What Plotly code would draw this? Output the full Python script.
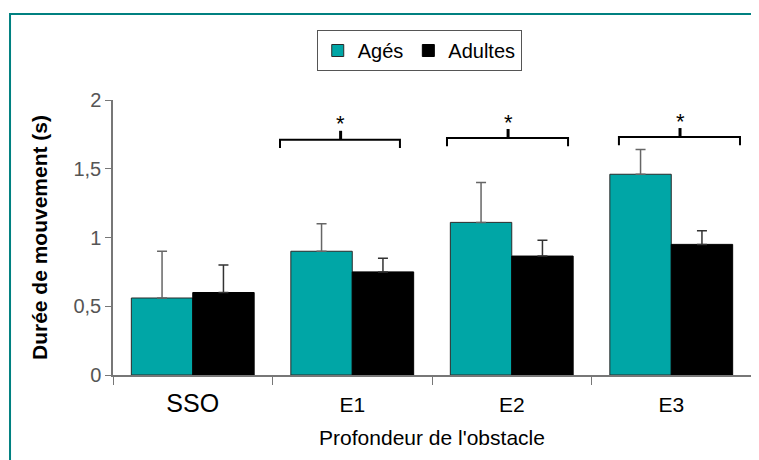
import plotly.graph_objects as go

categories = ["SSO", "E1", "E2", "E3"]
ages_values = [0.56, 0.90, 1.11, 1.46]
ages_err = [0.34, 0.20, 0.29, 0.18]
adultes_values = [0.60, 0.75, 0.865, 0.95]
adultes_err = [0.20, 0.10, 0.115, 0.10]
y_ticks = [0, 0.5, 1, 1.5, 2]
y_ticklabels = ["0", "0,5", "1", "1,5", "2"]
signif_categories = ["E1", "E2", "E3"]

TEAL = "#00A6A6"
FONT = "Liberation Sans, Arial, sans-serif"

fig = go.Figure()
fig.add_trace(go.Bar(
    name="Agés", x=categories, y=ages_values,
    marker=dict(color=TEAL, line=dict(color="#2a2a2a", width=1)),
    error_y=dict(type="data", array=ages_err, arrayminus=[0]*len(ages_err), symmetric=False,
                 color="#666666", thickness=1.5, width=5),
))
fig.add_trace(go.Bar(
    name="Adultes", x=categories, y=adultes_values,
    marker=dict(color="#000000", line=dict(color="#000000", width=1)),
    error_y=dict(type="data", array=adultes_err, arrayminus=[0]*len(adultes_err), symmetric=False,
                 color="#333333", thickness=1.5, width=5),
))

# significance brackets (offsets relative to category index)
bracket_offsets = [(-0.453, 0.299, -0.073, 1.711),
                   (-0.406, 0.353, -0.023, 1.724),
                   (-0.328, 0.431, 0.055, 1.731)]
shapes = []
annotations = []
for cat, (lo, hi, mid, yh) in zip(signif_categories, bracket_offsets):
    i = categories.index(cat)
    x0, x1, xm = i + lo, i + hi, i + mid
    path = f"M {x0},{yh-0.06} L {x0},{yh} L {x1},{yh} L {x1},{yh-0.06}"
    shapes.append(dict(type="path", path=path, xref="x", yref="y",
                       line=dict(color="#000000", width=2)))
    shapes.append(dict(type="line", x0=xm, x1=xm, y0=yh, y1=yh + 0.065, xref="x", yref="y",
                       line=dict(color="#000000", width=3)))
    annotations.append(dict(x=xm, y=yh + 0.115, xref="x", yref="y", text="*", showarrow=False,
                            font=dict(size=22, color="#000000", family=FONT), yanchor="middle"))

# outer teal frame
shapes.append(dict(type="rect", xref="paper", yref="paper", x0=-0.1614, y0=-0.6, x1=1.3, y1=1.3127,
                   line=dict(color="#008080", width=2), fillcolor="rgba(0,0,0,0)", layer="below"))

ticktext = [f"<span style='font-size:25px'>{c}</span>" if c == "SSO" else c for c in categories]

fig.update_layout(
    width=759, height=460,
    margin=dict(l=105, r=16, t=92, b=93),
    paper_bgcolor="white", plot_bgcolor="white",
    barmode="group", bargap=0.23, bargroupgap=0,
    font=dict(family=FONT, color="#000000"),
    showlegend=True,
    legend=dict(orientation="h", x=0.48, y=1.2545, xanchor="center", yanchor="top",
                bordercolor="#555555", borderwidth=1, bgcolor="white",
                font=dict(size=20, family=FONT, color="#000000"),
                itemwidth=30, traceorder="normal"),
    shapes=shapes,
    annotations=annotations,
    xaxis=dict(
        type="category", range=[-0.5, 3.5],
        tickvals=categories, ticktext=ticktext,
        tickson="boundaries", ticks="outside", ticklen=8, tickcolor="#777777",
        ticklabelstandoff=10,
        showline=True, linecolor="#777777", linewidth=1.5,
        tickfont=dict(size=21, family=FONT, color="#000000"),
        title=dict(text="Profondeur de l'obstacle", font=dict(size=21, family=FONT, color="#000000"),
                   standoff=14),
        showgrid=False, zeroline=False,
    ),
    yaxis=dict(
        range=[0, 2], tickvals=y_ticks, ticktext=y_ticklabels,
        ticks="outside", ticklen=6, tickcolor="#777777",
        showline=True, linecolor="#777777", linewidth=1.5,
        tickfont=dict(size=20, family=FONT, color="#555555"),
        title=dict(text="<b>Durée de mouvement (s)</b>", font=dict(size=21, family=FONT, color="#000000"),
                   standoff=20),
        showgrid=False, zeroline=False,
    ),
)

fig.write_html("out.html")
